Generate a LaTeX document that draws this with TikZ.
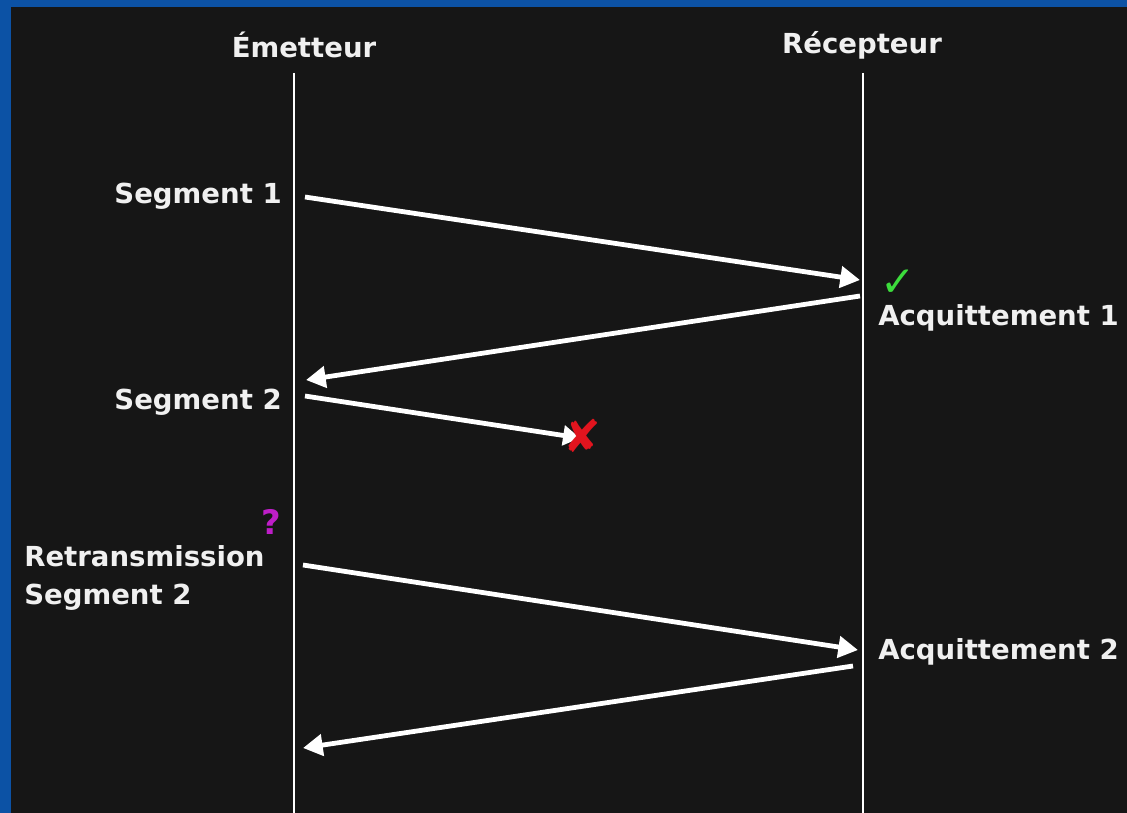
\documentclass[tikz,border=0pt]{standalone}
\usepackage{fontspec}
\setmainfont{DejaVu Sans}
\newfontfamily\symbolfont{DejaVu Sans}
\usetikzlibrary{arrows.meta,positioning}
\definecolor{boardblue}{RGB}{12,82,165}
\definecolor{chalkboard}{RGB}{22,22,22}
\definecolor{okgreen}{RGB}{60,220,60}
\definecolor{lostred}{RGB}{225,20,30}
\definecolor{askpink}{RGB}{190,30,200}
\tikzset{
  chalktext/.style={text=white!94!black,font=\bfseries\fontsize{19.6}{27}\selectfont,inner sep=0pt},
  lifeline/.style={white,line width=2pt},
  msg/.style={white,line width=3.4pt,-{Triangle[length=14pt,width=15pt]}},
  lostmsg/.style={white,line width=3.4pt,-{Triangle[length=12pt,width=14pt]}}
}

\begin{document}
\begin{tikzpicture}[x=0.025cm,y=-0.025cm]
\useasboundingbox (0,0) rectangle (1127,813);
\fill[boardblue] (0,0) rectangle (1127,813);
\fill[chalkboard] (11,7) rectangle (1127,813);

% the two sides
\node[chalktext] (emetteur) at (304,45) {Émetteur};
\node[chalktext] (recepteur) at (862,45) {Récepteur};
\coordinate (emtop) at (294,73);
\coordinate (embot) at (294,813);
\coordinate (rectop) at (863,73);
\coordinate (recbot) at (863,813);
\draw[lifeline] (emtop) -- (embot);
\draw[lifeline] (rectop) -- (recbot);

% exchanges
\coordinate (seg1a) at (305,197);
\coordinate (seg1b) at (860,280);
\coordinate (ack1a) at (860,296);
\coordinate (ack1b) at (306,380);
\coordinate (seg2a) at (305,396);
\coordinate (seg2b) at (580,438);
\coordinate (retra) at (303,565);
\coordinate (retrb) at (858,650);
\coordinate (ack2a) at (853,666);
\coordinate (ack2b) at (303,748);
\draw[msg] (seg1a) -- (seg1b);
\draw[msg] (ack1a) -- (ack1b);
\draw[lostmsg] (seg2a) -- (seg2b);
\draw[msg] (retra) -- (retrb);
\draw[msg] (ack2a) -- (ack2b);

% labels
\node[chalktext,anchor=east] (seg1) at (282,196) {Segment 1};
\node[chalktext,anchor=west] (ack1) at (878,318) {Acquittement 1};
\node[chalktext,anchor=east] (seg2) at (282,402) {Segment 2};
\node[chalktext,anchor=north west,align=left] (retr) at (24,545) {Retransmission\\Segment 2};
\node[chalktext,anchor=west] (ack2) at (878,652) {Acquittement 2};

% marks
\node[text=okgreen,font=\symbolfont\fontsize{30}{30}\selectfont,inner sep=0pt] (ok) at (898,283) {✓};
\node[text=lostred,font=\symbolfont\fontsize{32}{32}\selectfont,inner sep=0pt] (lost) at (582,436) {✘};
\node[text=askpink,font=\fontsize{24}{24}\selectfont\bfseries,inner sep=0pt] (ask) at (271,522) {?};
\end{tikzpicture}
\end{document}
